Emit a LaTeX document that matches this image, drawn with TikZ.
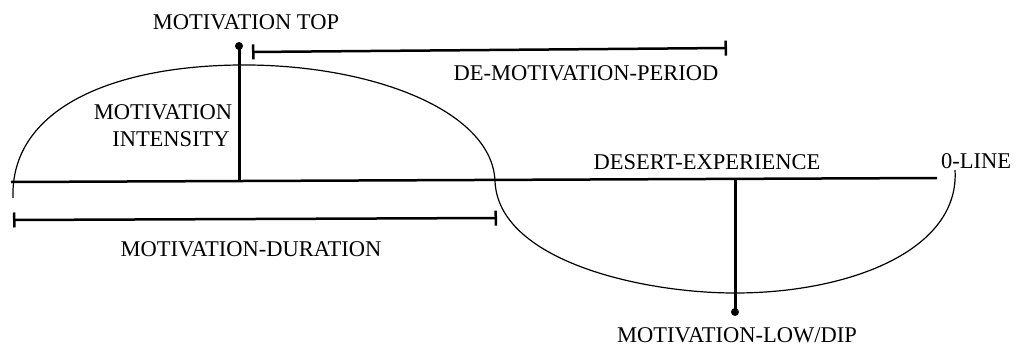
\documentclass[tikz,border=0pt]{standalone}
\usepackage{fontspec}
\setmainfont{Liberation Serif}
\usetikzlibrary{arrows.meta}
\begin{document}
\begin{tikzpicture}[x=1pt,y=-1pt,
  lbl/.style={font=\fontsize{22.5}{25}\selectfont, inner sep=0pt, anchor=base},
  axis/.style={line width=2.5pt},
  stem/.style={line width=3pt},
  curve/.style={line width=1.2pt},
  span/.style={line width=2.5pt,{Bar[width=15pt,line width=2.5pt]}-{Bar[width=15pt,line width=2.5pt]}},
  dot/.style={circle, fill=black, inner sep=0pt, minimum size=8pt}]
\useasboundingbox (0,0) rectangle (1022,345);
% key points
\coordinate (L0) at (11,182);
\coordinate (R0) at (937,178);
\coordinate (topbase) at (239,181);
\node[dot] (topdot) at (239,46) {};
\coordinate (lowbase) at (735,179);
\node[dot] (lowdot) at (735,312) {};
\coordinate (c1) at (13,198);
\coordinate (c2) at (240,65);
\coordinate (c3) at (495,181);
\coordinate (c4) at (735,293);
\coordinate (c5) at (955,170);
\coordinate (d1) at (13,220);
\coordinate (d2) at (497,218);
\coordinate (p1) at (252,52);
\coordinate (p2) at (727,48);
% zero line
\draw[axis] (L0) -- (R0);
% motivation curve
\draw[curve] (c1) .. controls (10,110) and (110,66) .. (c2)
  .. controls (370,64) and (492,110) .. (c3)
  .. controls (498,260) and (640,293) .. (c4)
  .. controls (850,293) and (960,250) .. (c5);
% stems
\draw[stem] (topbase) -- (topdot.center);
\draw[stem] (lowbase) -- (lowdot.center);
% spans
\draw[span] (d1) -- (d2);
\draw[span] (p1) -- (p2);
% labels
\node[lbl] (ttop) at (246,30) {MOTIVATION TOP};
\node[lbl] (tdemot) at (586,80) {DE-MOTIVATION-PERIOD};
\node[lbl] (tint1) at (163,119) {MOTIVATION};
\node[lbl] (tint2) at (171,146) {INTENSITY};
\node[lbl] (tdur) at (251,256) {MOTIVATION-DURATION};
\node[lbl] (tdes) at (707,169) {DESERT-EXPERIENCE};
\node[lbl] (tzero) at (976,168) {0-LINE};
\node[lbl] (tlow) at (737,342) {MOTIVATION-LOW/DIP};
\end{tikzpicture}
\end{document}
